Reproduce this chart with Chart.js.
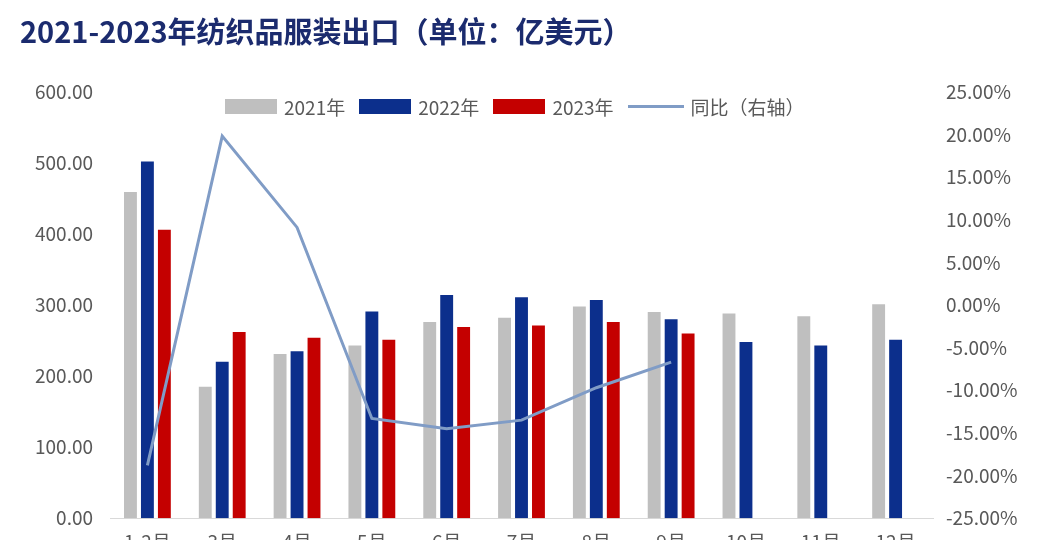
<!DOCTYPE html>
<html>
<head>
<meta charset="utf-8">
<script src="https://cdn.jsdelivr.net/npm/chart.js@4.4.1/dist/chart.umd.min.js"></script>
<style>
  html, body { margin: 0; padding: 0; background: #fff; overflow: hidden; }
  #wrap { position: relative; width: 1044px; height: 571px; }
  #legend { position: absolute; top: 93px; left: 225px; display: flex; align-items: center;
            font-family: "Noto Sans CJK SC", sans-serif; font-size: 19px; color: #595959; }
  #legend .item { display: flex; align-items: center; margin-right: 14px; }
  #legend .sw { width: 52px; height: 15px; margin-right: 7px; }
  #legend .ln { width: 56px; height: 3px; margin-right: 7px; }
</style>
</head>
<body>
<div id="wrap">
  <canvas id="exportCanvas" width="1044" height="571"></canvas>
  <div id="legend"></div>
</div>
<script>
var months = ['1-2月', '3月', '4月', '5月', '6月', '7月', '8月', '9月', '10月', '11月', '12月'];
var exp2021 = [459, 185, 231, 243, 276, 282, 298, 290, 288, 284, 301];
var exp2022 = [502, 220, 235, 291, 314, 311, 307, 280, 248, 243, 251];
var exp2023 = [406, 262, 254, 251, 269, 271, 276, 260, null, null, null];
var yoy2023 = [-18.8, 19.8, 9.1, -13.3, -14.5, -13.5, -9.7, -6.7, null, null, null];

var font = '"Noto Sans CJK SC", sans-serif';
var tickColor = '#595959';

var context = document.getElementById('exportCanvas');

var chart = new Chart(context, {
  type: 'bar',
  data: {
    labels: months,
    datasets: [{
        label: '2021年',
        data: exp2021,
        backgroundColor: '#bfbfbf',
        order: 1
      }, {
        label: '2022年',
        data: exp2022,
        backgroundColor: '#0c2f8c',
        order: 1
      }, {
        label: '2023年',
        data: exp2023,
        backgroundColor: '#c40000',
        order: 1
      }, {
        type: 'line',
        label: '同比（右轴）',
        data: yoy2023,
        yAxisID: 'y1',
        borderColor: '#809cc6',
        borderWidth: 3,
        pointRadius: 0,
        tension: 0,
        fill: false,
        order: 0
      }
    ]
  },
  options: {
    responsive: false,
    animation: false,
    layout: { padding: { left: 20, right: 0, top: 0, bottom: 6 } },
    datasets: {
      bar: { categoryPercentage: 0.68, barPercentage: 0.76 }
    },
    plugins: {
      legend: { display: false },
      tooltip: { enabled: false },
      title: {
        display: true,
        align: 'start',
        text: '2021-2023年纺织品服装出口（单位：亿美元）',
        color: '#1b2b6e',
        font: { family: font, size: 29, weight: 'bold' },
        padding: { top: 15, bottom: 42 }
      }
    },
    scales: {
      x: {
        grid: { display: false, drawTicks: false },
        border: { display: true, color: '#d9d9d9', width: 1 },
        ticks: { color: tickColor, font: { family: font, size: 19 }, padding: 12, maxRotation: 0 }
      },
      y: {
        position: 'left',
        min: 0,
        max: 600,
        grid: { display: false, drawTicks: false },
        border: { display: false },
        afterFit: function (scale) { scale.width = 90; },
        ticks: {
          stepSize: 100,
          padding: 17,
          color: tickColor,
          font: { family: font, size: 19 },
          callback: function (v) { return v.toFixed(2); }
        }
      },
      y1: {
        position: 'right',
        min: -25,
        max: 25,
        grid: { display: false, drawTicks: false },
        border: { display: false },
        afterFit: function (scale) { scale.width = 111; },
        ticks: {
          stepSize: 5,
          padding: 13,
          color: tickColor,
          font: { family: font, size: 19 },
          callback: function (v) { return v.toFixed(2) + '%'; }
        }
      }
    }
  }
});

// legend sits inside the plot area, so it is built as html from the datasets
var legendBox = document.getElementById('legend');
chart.data.datasets.forEach(function (ds) {
  var item = document.createElement('div');
  item.className = 'item';
  var sw = document.createElement('span');
  if (ds.type === 'line') {
    sw.className = 'ln';
    sw.style.background = ds.borderColor;
  } else {
    sw.className = 'sw';
    sw.style.background = ds.backgroundColor;
  }
  var txt = document.createElement('span');
  txt.textContent = ds.label;
  item.appendChild(sw);
  item.appendChild(txt);
  legendBox.appendChild(item);
});
</script>
</body>
</html>
